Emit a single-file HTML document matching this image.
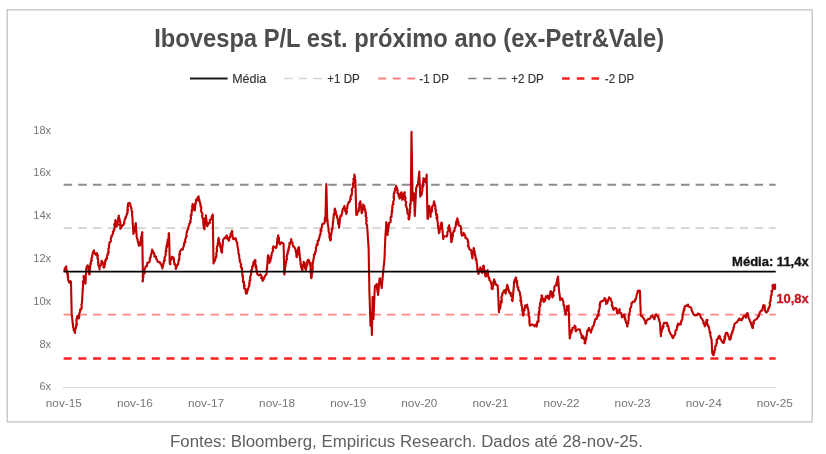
<!DOCTYPE html>
<html lang="pt-BR">
<head>
<meta charset="utf-8">
<title>Ibovespa P/L est. próximo ano (ex-Petr&amp;Vale)</title>
<style>
html,body{margin:0;padding:0;background:#fff;}
body{width:826px;height:454px;overflow:hidden;font-family:"Liberation Sans",sans-serif;}
svg{display:block;}
text{font-family:"Liberation Sans",sans-serif;}
.title{font-size:25.5px;font-weight:bold;fill:#4d4d4d;}
.lg{font-size:12px;fill:#333333;stroke:#333333;stroke-width:0.15px;}
.ax{font-size:11px;fill:#757575;}
.xl{font-size:11.8px;fill:#757575;}
.cap{font-size:16px;fill:#5f5f5f;}
.med{font-size:12.6px;font-weight:bold;fill:#141414;stroke:#141414;stroke-width:0.35px;}
.last{font-size:12.6px;font-weight:bold;fill:#c4161c;stroke:#c4161c;stroke-width:0.3px;}
</style>
</head>
<body>
<svg width="826" height="454" viewBox="0 0 826 454">
<rect x="0" y="0" width="826" height="454" fill="#ffffff"/>
<!-- chart frame -->
<rect x="7.2" y="9.8" width="805" height="412.1" fill="#ffffff" stroke="#c6c6c6" stroke-width="1.4"/>
<!-- title -->
<text x="154.2" y="46.9" class="title" textLength="510" lengthAdjust="spacingAndGlyphs">Ibovespa P/L est. próximo ano (ex-Petr&amp;Vale)</text>
<!-- legend -->
<line x1="190" y1="78.5" x2="227.6" y2="78.5" stroke="#1a1a1a" stroke-width="2"/>
<text x="232.2" y="82.6" class="lg" textLength="34" lengthAdjust="spacingAndGlyphs">Média</text>
<line x1="284.2" y1="78.5" x2="321.8" y2="78.5" stroke="#d4d4d4" stroke-width="1.6" stroke-dasharray="8.5 6.1"/>
<text x="327.3" y="82.6" class="lg" textLength="32.5" lengthAdjust="spacingAndGlyphs">+1 DP</text>
<line x1="378.2" y1="78.5" x2="415.6" y2="78.5" stroke="#ff8080" stroke-width="1.8" stroke-dasharray="8 6.5"/>
<text x="419.3" y="82.6" class="lg" textLength="29.6" lengthAdjust="spacingAndGlyphs">-1 DP</text>
<line x1="468.2" y1="78.5" x2="506.4" y2="78.5" stroke="#7f7f7f" stroke-width="1.5" stroke-dasharray="8.3 6.6"/>
<text x="511.2" y="82.6" class="lg" textLength="32.6" lengthAdjust="spacingAndGlyphs">+2 DP</text>
<line x1="562.1" y1="78.5" x2="599.4" y2="78.5" stroke="#ff1f1f" stroke-width="2.4" stroke-dasharray="7.6 7.1"/>
<text x="604.8" y="82.6" class="lg" textLength="29.4" lengthAdjust="spacingAndGlyphs">-2 DP</text>
<!-- axis -->
<line x1="62.9" y1="387.5" x2="776" y2="387.5" stroke="#d9d9d9" stroke-width="1"/>
<text x="33.2" y="133.6" class="ax" textLength="18.0" lengthAdjust="spacingAndGlyphs">18x</text>
<text x="33.2" y="176.4" class="ax" textLength="18.0" lengthAdjust="spacingAndGlyphs">16x</text>
<text x="33.2" y="219.2" class="ax" textLength="18.0" lengthAdjust="spacingAndGlyphs">14x</text>
<text x="33.2" y="262" class="ax" textLength="18.0" lengthAdjust="spacingAndGlyphs">12x</text>
<text x="33.2" y="304.8" class="ax" textLength="18.0" lengthAdjust="spacingAndGlyphs">10x</text>
<text x="39.4" y="347.6" class="ax" textLength="11.8" lengthAdjust="spacingAndGlyphs">8x</text>
<text x="39.4" y="390.4" class="ax" textLength="11.8" lengthAdjust="spacingAndGlyphs">6x</text>
<text x="63.8" y="407.4" text-anchor="middle" class="xl" textLength="36" lengthAdjust="spacingAndGlyphs">nov-15</text>
<text x="134.9" y="407.4" text-anchor="middle" class="xl" textLength="36" lengthAdjust="spacingAndGlyphs">nov-16</text>
<text x="206.0" y="407.4" text-anchor="middle" class="xl" textLength="36" lengthAdjust="spacingAndGlyphs">nov-17</text>
<text x="277.1" y="407.4" text-anchor="middle" class="xl" textLength="36" lengthAdjust="spacingAndGlyphs">nov-18</text>
<text x="348.2" y="407.4" text-anchor="middle" class="xl" textLength="36" lengthAdjust="spacingAndGlyphs">nov-19</text>
<text x="419.3" y="407.4" text-anchor="middle" class="xl" textLength="36" lengthAdjust="spacingAndGlyphs">nov-20</text>
<text x="490.4" y="407.4" text-anchor="middle" class="xl" textLength="36" lengthAdjust="spacingAndGlyphs">nov-21</text>
<text x="561.5" y="407.4" text-anchor="middle" class="xl" textLength="36" lengthAdjust="spacingAndGlyphs">nov-22</text>
<text x="632.6" y="407.4" text-anchor="middle" class="xl" textLength="36" lengthAdjust="spacingAndGlyphs">nov-23</text>
<text x="703.7" y="407.4" text-anchor="middle" class="xl" textLength="36" lengthAdjust="spacingAndGlyphs">nov-24</text>
<text x="774.8" y="407.4" text-anchor="middle" class="xl" textLength="36" lengthAdjust="spacingAndGlyphs">nov-25</text>
<!-- bands -->
<line x1="63.6" y1="184.7" x2="775.7" y2="184.7" stroke="#8c8c8c" stroke-width="2" stroke-dasharray="8.5 6.2"/>
<line x1="63.6" y1="228.1" x2="775.7" y2="228.1" stroke="#d2d2d2" stroke-width="1.8" stroke-dasharray="8.5 6.2"/>
<line x1="63.6" y1="314.7" x2="775.7" y2="314.7" stroke="#ff8585" stroke-width="1.8" stroke-dasharray="8.5 6.2"/>
<line x1="63.6" y1="358.4" x2="775.7" y2="358.4" stroke="#ff2020" stroke-width="2.5" stroke-dasharray="8 6.7"/>
<!-- series -->
<polyline fill="none" stroke="#c00000" stroke-width="2.1" stroke-linejoin="round" stroke-linecap="round" points="64.4,270.9 64.7,268.76 65.5,267.41 65.86,267.14 66.3,266.4 66.01,267.52 66.15,268.41 66.34,268.51 66.85,271.75 66.7,271.1 67.36,274.3 67.47,273.8 68.02,273.89 67.7,276.3 68.31,276.76 67.84,277.32 68.26,280.42 68.38,280.8 69.09,281.26 69.2,282.7 70.15,280.98 71.0,281.8 71.02,281.97 71.04,283.63 71.07,285.11 71.09,285.31 71.11,287.49 71.13,288.15 71.15,290.04 71.17,289.36 71.2,289.89 71.22,292.76 71.24,293.01 71.26,294.55 71.28,295.3 71.31,295.57 71.33,297.4 71.35,298.02 71.37,300.46 71.39,300.67 71.42,301.8 71.44,303.67 71.46,302.63 71.48,304.77 71.5,305.19 71.53,305.21 71.55,308.12 71.57,307.64 71.59,310.47 71.61,310.27 71.63,312.55 71.66,313.51 71.68,313.23 71.7,314.5 71.83,316.67 71.95,315.6 72.08,316.9 72.2,318.69 72.33,319.1 72.45,320.61 72.58,322.1 72.7,323.52 72.83,324.37 72.95,323.79 73.08,326.95 73.2,327.2 73.87,329.03 73.69,328.84 73.7,330.49 73.96,329.81 74.41,331.05 75.0,333.0 75.04,330.62 74.9,329.82 75.2,329.35 75.33,329.74 76.11,326.55 75.95,326.04 76.4,325.4 76.35,323.3 76.93,324.81 76.63,322.32 76.34,320.2 76.69,319.66 77.26,318.35 76.55,319.63 77.14,316.29 77.2,316.3 77.94,315.83 78.6,318.1 78.81,318.41 79.32,316.51 78.9,314.47 78.99,314.57 79.5,312.7 79.97,312.28 80.2,309.43 80.8,309.0 81.33,309.33 81.59,307.73 81.78,306.46 81.41,304.73 81.9,303.6 81.96,301.23 82.02,300.96 82.08,301.16 82.14,299.45 82.2,300.02 82.26,297.21 82.32,295.81 82.38,294.74 82.44,295.76 82.5,293.54 82.56,293.47 82.62,292.07 82.68,291.42 82.74,289.54 82.8,289.44 82.86,288.47 82.92,286.3 82.98,286.9 83.04,283.64 83.1,283.6 82.87,281.55 83.79,282.4 83.17,281.42 84.15,279.88 83.66,278.53 83.59,275.93 84.1,276.3 84.77,277.78 84.53,279.64 84.63,280.51 85.23,279.63 84.85,280.91 85.04,282.81 85.5,283.6 85.55,282.33 85.6,282.72 85.65,280.37 85.7,280.63 85.75,279.63 85.8,277.48 85.85,274.95 85.9,274.4 85.95,275.15 86.0,273.17 86.05,272.37 86.1,271.22 86.15,270.96 86.2,269.1 86.31,268.04 86.95,265.99 87.7,265.4 88.17,266.43 88.16,268.18 88.71,268.27 88.61,269.46 88.71,271.01 88.85,271.56 89.08,273.76 89.5,274.58 89.5,274.5 89.59,272.71 89.68,273.61 89.77,270.18 89.86,269.97 89.95,268.3 90.04,268.45 90.13,268.02 90.22,266.41 90.31,263.65 90.4,263.6 91.04,263.97 90.63,262.94 91.07,260.61 91.92,260.62 91.35,258.47 91.96,257.22 92.2,256.7 92.2,255.12 93.02,253.21 93.15,253.38 92.92,252.01 93.82,251.49 94.0,250.4 94.04,252.93 95.24,254.02 95.03,253.1 95.9,254.9 96.04,254.81 97.1,253.1 97.02,253.05 97.32,256.34 97.87,255.47 97.35,258.42 97.92,258.81 97.59,257.97 98.34,260.06 97.87,262.57 98.58,263.2 98.18,264.38 98.32,265.43 98.85,264.93 99.1,267.66 98.97,266.37 99.38,267.72 99.5,269.5 99.45,267.49 99.73,266.59 100.32,265.86 101.11,264.79 101.19,263.44 101.37,261.95 101.61,260.92 102.2,261.3 102.68,262.5 102.39,263.33 103.38,263.31 103.52,265.3 103.45,267.52 103.7,267.6 103.9,266.64 104.5,267.05 104.47,265.63 105.14,264.09 105.14,262.27 105.1,260.66 105.42,261.46 105.92,258.81 106.05,259.8 107.15,258.33 106.87,256.11 107.19,255.76 107.7,254.9 107.56,253.74 107.86,254.23 108.77,252.02 108.24,252.23 108.51,249.46 108.4,248.52 109.07,247.87 109.0,246.87 109.0,245.17 109.29,244.55 109.44,242.45 109.9,242.06 110.39,241.91 110.75,241.28 110.92,240.92 110.79,238.31 111.58,236.79 111.3,236.8 111.91,236.17 111.62,235.69 112.85,234.04 113.08,233.53 112.87,231.65 113.62,231.51 114.0,229.5 114.45,229.44 114.37,228.62 114.62,227.03 114.31,224.1 114.36,224.04 114.47,224.41 115.07,222.79 115.28,221.94 115.3,220.4 115.52,220.03 116.06,223.25 116.0,223.7 116.39,223.41 116.7,225.01 116.7,226.8 116.47,225.13 117.33,223.96 117.54,225.21 117.49,222.5 117.68,222.38 118.17,221.19 118.24,218.64 117.95,218.16 118.74,217.31 118.77,215.48 118.9,215.9 118.61,216.29 119.37,218.57 119.53,218.47 119.52,220.03 119.62,220.09 120.19,221.38 120.43,224.57 119.62,224.25 120.57,226.78 120.35,225.81 120.26,228.83 120.7,228.6 120.99,227.94 121.5,226.87 122.89,224.83 123.34,225.03 123.6,224.1 124.33,223.68 124.02,223.23 124.62,219.69 124.48,220.03 125.27,218.47 125.31,217.58 125.83,218.01 125.86,216.74 126.7,215.0 127.2,212.83 127.45,213.47 127.59,211.17 127.23,210.4 128.02,209.89 127.54,208.35 127.62,206.18 127.61,207.39 127.96,206.61 128.09,203.59 128.5,203.2 129.46,202.75 130.4,204.1 130.44,206.41 131.11,206.99 131.02,208.27 131.5,208.21 131.44,207.75 131.61,209.9 131.8,211.46 131.5,210.72 132.3,211.94 132.01,213.56 132.2,215.0 132.26,216.69 132.33,216.3 132.39,217.42 132.45,218.69 132.52,219.02 132.58,222.18 132.64,221.19 132.71,224.44 132.77,222.95 132.83,223.81 132.89,224.81 132.96,226.3 133.02,229.12 133.08,228.75 133.15,230.07 133.21,230.53 133.27,231.35 133.34,231.92 133.4,234.0 133.62,233.39 134.2,231.19 133.83,230.3 134.17,229.88 134.94,230.06 135.08,226.67 134.46,227.67 135.54,226.0 135.45,223.63 135.47,225.33 135.8,223.1 135.87,225.18 135.94,224.48 136.01,225.26 136.08,227.84 136.15,229.01 136.22,230.19 136.28,230.63 136.35,232.35 136.42,233.8 136.49,233.07 136.56,233.97 136.63,236.32 136.7,236.8 136.56,236.55 137.21,239.04 137.32,239.0 137.78,239.38 137.72,241.69 138.63,243.22 138.79,243.73 138.39,244.07 138.9,245.8 140.06,245.49 140.3,244.0 140.28,241.54 140.64,242.36 140.74,240.08 141.16,240.94 140.89,237.29 141.17,237.33 141.69,235.62 141.98,236.11 141.86,233.49 142.5,232.73 142.2,232.2 142.22,232.44 142.23,234.99 142.25,236.56 142.27,235.36 142.28,237.04 142.3,239.6 142.32,239.01 142.33,241.71 142.35,240.05 142.37,242.06 142.38,244.5 142.4,245.84 142.42,244.92 142.43,247.7 142.45,246.09 142.47,248.11 142.48,249.0 142.5,249.06 142.52,251.09 142.53,251.44 142.55,252.7 142.57,255.5 142.58,255.39 142.6,256.52 142.62,258.83 142.63,258.24 142.65,258.29 142.67,261.57 142.68,260.35 142.7,261.43 142.72,263.01 142.73,265.89 142.75,265.09 142.77,267.11 142.78,268.41 142.8,268.15 142.82,270.56 142.83,271.22 142.85,270.47 142.87,272.79 142.88,275.2 142.9,274.9 142.72,275.26 142.7,277.05 143.13,277.23 142.94,279.92 142.89,281.11 142.5,281.4 142.82,279.79 142.75,278.77 143.43,276.84 143.05,277.68 143.32,274.57 143.32,274.87 144.0,273.6 144.01,273.97 144.74,272.97 144.3,269.33 144.32,269.52 144.9,268.5 145.56,267.45 145.53,266.46 146.37,266.3 146.95,265.91 147.31,262.9 147.6,263.1 148.84,262.05 149.4,262.2 149.69,260.77 150.09,259.21 149.82,258.29 149.95,259.08 150.6,256.4 150.65,257.28 150.98,254.01 151.51,254.18 151.92,251.52 151.62,252.54 152.22,251.76 152.1,249.5 152.04,249.93 152.52,250.66 153.77,252.83 154.13,253.24 154.47,254.5 154.26,256.48 154.9,256.7 155.95,256.47 156.2,258.88 156.42,259.07 156.94,259.51 157.65,261.57 158.5,262.2 159.55,261.79 160.3,263.1 160.25,263.68 161.36,264.35 161.43,265.48 162.36,267.56 162.5,268.5 162.28,266.32 162.84,266.59 163.3,264.23 163.04,264.96 163.51,262.74 163.63,263.65 163.85,261.51 164.12,260.04 164.84,260.7 164.56,257.36 165.15,256.35 164.65,257.34 165.28,256.08 165.49,255.24 165.8,253.1 165.92,251.12 165.63,251.25 166.42,251.29 166.03,249.45 166.47,248.11 166.41,246.47 166.94,247.33 166.69,245.07 167.54,245.45 167.1,242.02 168.0,243.48 167.7,239.8 168.31,239.77 168.44,239.45 168.52,237.11 168.65,236.29 168.42,237.1 169.01,234.18 168.56,233.81 169.0,233.1 169.03,233.79 169.05,234.43 169.08,237.34 169.11,237.4 169.13,236.91 169.16,238.17 169.19,240.46 169.21,240.78 169.24,242.61 169.27,243.86 169.29,244.25 169.32,245.8 169.35,245.72 169.37,248.33 169.4,247.62 169.43,248.44 169.45,250.41 169.48,251.47 169.51,251.34 169.53,252.49 169.56,255.54 169.59,254.47 169.61,256.44 169.64,256.76 169.67,260.29 169.69,260.79 169.72,262.31 169.75,263.26 169.77,262.0 169.8,264.0 170.42,264.21 170.02,261.48 171.04,259.88 171.51,259.18 171.76,257.75 171.77,258.96 172.1,256.7 172.71,256.96 173.9,258.6 174.1,259.07 173.82,259.66 174.13,262.84 174.84,263.71 174.52,264.38 174.66,264.63 175.37,265.12 175.79,266.68 175.69,268.62 175.8,268.5 175.85,268.88 176.83,266.09 177.45,264.67 178.09,264.52 177.91,264.02 178.5,262.2 178.61,260.27 179.07,258.91 179.31,258.51 179.29,259.64 179.4,257.72 179.29,254.81 179.18,254.25 179.93,254.08 179.99,254.43 179.77,251.5 180.3,251.3 181.35,249.31 181.6,249.68 183.0,249.5 182.85,248.09 183.22,247.76 183.83,245.67 184.11,245.46 183.86,245.81 184.22,242.54 184.31,242.96 185.33,242.39 185.11,239.9 184.97,240.01 185.7,238.6 186.0,237.18 186.31,236.47 186.84,236.33 186.38,235.84 186.41,233.77 187.01,231.94 186.89,232.53 187.08,230.88 188.24,228.71 187.73,229.08 188.27,228.19 188.5,226.8 189.26,224.71 189.21,223.92 189.4,224.48 190.3,222.2 190.71,221.82 190.06,221.19 190.93,219.08 191.05,218.04 190.66,216.03 190.8,214.83 191.03,215.89 191.52,215.16 191.66,212.47 191.63,211.96 191.99,211.21 191.6,210.55 192.43,208.31 192.47,206.72 191.98,206.35 192.59,207.4 192.72,204.6 192.6,204.1 193.3,204.65 192.97,207.38 193.68,207.81 194.03,209.69 194.15,210.34 194.5,210.4 194.91,210.41 194.86,209.0 195.2,206.76 195.05,206.65 195.12,206.45 195.4,202.86 195.57,204.45 196.02,201.14 195.91,199.83 196.78,200.52 196.8,199.1 197.6,198.89 197.57,197.56 198.6,196.4 198.69,198.33 199.37,199.56 198.84,200.5 199.91,201.74 199.33,200.61 199.56,201.12 200.52,204.39 200.4,204.5 200.71,206.47 200.88,205.93 200.52,206.41 201.36,207.74 201.09,209.4 200.97,209.94 201.41,212.3 201.67,212.18 202.44,213.74 202.5,215.09 201.86,215.52 202.44,217.59 202.52,218.42 202.89,218.03 203.39,218.69 203.2,220.9 203.67,220.96 203.0,222.06 203.91,225.32 203.3,224.92 203.94,226.82 203.78,226.96 204.1,228.95 204.4,229.0 204.52,229.24 204.63,226.08 204.75,225.86 204.86,225.21 204.98,224.6 205.09,223.56 205.21,221.26 205.32,220.33 205.44,218.38 205.55,217.16 205.67,216.81 205.78,216.45 205.9,215.4 206.04,217.6 206.18,217.47 206.32,219.41 206.46,220.18 206.6,220.35 206.74,222.94 206.88,223.73 207.02,223.94 207.16,225.44 207.3,226.3 207.4,225.29 208.64,223.74 208.42,223.02 209.2,222.7 209.93,222.8 209.9,219.9 210.52,219.5 211.3,219.1 211.7,216.97 211.88,215.9 212.9,216.31 212.8,214.5 212.81,216.84 212.83,216.16 212.84,218.36 212.86,218.31 212.87,219.9 212.89,219.65 212.9,220.15 212.91,223.34 212.93,223.5 212.94,224.39 212.96,225.8 212.97,227.2 212.99,227.3 213.0,229.22 213.01,228.71 213.03,231.6 213.04,232.08 213.06,233.02 213.07,233.37 213.09,234.87 213.1,235.27 213.11,237.12 213.13,236.78 213.14,238.37 213.16,239.24 213.17,241.75 213.19,241.95 213.2,242.18 213.21,244.88 213.23,244.63 213.24,246.32 213.26,246.56 213.27,247.72 213.29,249.13 213.3,249.9 213.31,250.56 213.33,252.8 213.34,253.03 213.36,254.26 213.37,255.9 213.39,254.21 213.4,256.21 213.41,257.26 213.43,259.07 213.44,258.82 213.46,261.2 213.47,261.58 213.49,263.37 213.5,263.5 213.79,261.61 213.93,262.2 215.01,260.74 215.07,259.48 215.23,259.6 215.9,257.2 215.9,256.6 216.5,256.11 216.29,253.59 216.52,252.09 216.94,251.75 217.1,250.49 216.77,249.45 216.96,248.25 216.68,248.8 217.1,246.41 217.26,246.08 217.53,245.54 217.91,243.73 218.32,244.15 217.59,243.07 218.58,241.94 217.96,241.07 218.59,237.7 218.6,238.1 218.34,240.44 219.21,239.43 218.88,240.14 219.23,243.0 219.57,242.22 220.35,245.1 219.84,246.41 220.4,246.3 220.76,248.17 221.07,249.54 221.44,250.43 221.1,251.06 221.68,252.25 221.9,252.6 222.0,252.65 222.1,249.8 222.2,248.38 222.3,247.09 222.4,246.28 222.5,246.24 222.6,246.24 222.7,245.12 222.8,243.26 222.9,243.0 223.0,240.72 223.1,239.9 224.51,237.77 225.0,238.1 225.74,237.59 225.73,236.62 226.8,235.4 227.34,237.73 227.35,238.96 227.89,238.6 228.64,238.37 228.6,240.8 229.18,240.08 229.16,239.69 229.55,237.49 230.07,237.26 230.4,235.4 230.49,234.09 231.07,233.31 231.85,231.42 231.9,230.9 232.38,231.63 232.2,232.26 232.36,235.31 232.65,235.8 232.48,235.43 232.6,237.23 233.08,238.81 233.1,239.0 233.74,239.2 235.3,238.1 236.14,239.38 235.75,239.82 236.16,240.65 237.1,242.7 237.24,244.01 237.37,245.52 237.51,246.0 237.65,247.03 237.78,247.93 237.92,247.81 238.05,249.51 238.19,249.47 238.33,250.28 238.46,253.81 238.6,253.6 238.96,254.22 239.32,256.43 239.26,255.9 239.2,257.37 239.42,258.4 239.94,260.86 239.55,260.8 239.74,260.49 240.4,262.6 240.94,263.9 241.29,264.61 240.61,265.52 241.43,268.2 242.05,267.95 241.8,269.1 241.93,269.03 242.06,270.43 242.19,270.94 242.32,273.95 242.45,275.85 242.58,276.65 242.71,275.26 242.84,276.99 242.97,277.91 243.1,279.9 242.85,281.71 243.71,282.95 243.93,281.73 244.03,284.55 244.06,286.21 244.05,287.31 244.72,285.56 244.21,288.43 244.9,289.0 245.69,288.93 245.66,291.97 245.99,293.5 246.8,293.6 247.09,291.26 247.27,291.68 247.64,290.91 247.64,290.2 248.16,288.69 248.6,287.2 248.89,285.97 248.81,286.05 249.54,285.05 249.32,282.63 248.98,283.62 249.79,282.2 249.58,280.57 250.39,280.23 250.17,277.73 250.16,278.42 250.4,276.3 250.46,275.84 250.86,275.45 251.25,272.67 250.62,271.61 251.22,271.55 251.8,271.42 251.2,270.27 252.15,269.36 252.09,266.64 252.2,266.3 253.0,266.14 253.28,265.4 253.4,261.95 254.05,262.96 254.15,261.78 254.9,260.0 255.5,260.3 255.33,262.66 255.36,262.37 255.31,265.02 256.01,265.25 255.47,267.33 256.32,266.73 256.29,269.73 256.76,269.72 256.51,270.99 256.7,271.8 256.86,271.81 257.33,274.18 257.99,274.69 258.6,275.4 259.4,275.0 260.4,274.5 260.42,274.25 261.63,276.27 261.11,278.08 262.15,277.77 262.33,279.38 262.6,280.9 263.08,278.59 263.05,280.48 264.35,278.1 264.51,276.53 264.9,276.3 265.63,274.96 266.25,274.83 266.57,274.27 266.7,271.8 266.78,269.43 266.86,268.82 266.94,267.42 267.02,268.77 267.11,267.97 267.19,264.39 267.27,264.33 267.35,264.93 267.43,262.76 267.51,262.87 267.59,260.22 267.68,258.51 267.76,259.9 267.84,256.11 267.92,256.0 268.0,255.4 268.62,257.6 268.77,256.14 268.93,259.09 269.0,260.92 268.63,259.51 269.54,262.85 269.5,262.6 270.13,260.89 270.49,261.1 270.46,258.71 271.3,258.1 271.25,255.94 271.66,254.99 271.61,253.85 272.24,252.4 272.47,251.85 271.98,252.9 272.36,251.85 273.19,250.65 272.66,248.29 272.81,248.62 273.4,246.3 274.54,247.27 274.95,247.04 275.8,248.1 276.56,246.83 276.79,244.66 277.1,244.5 276.94,242.2 277.56,242.63 277.11,242.54 277.36,240.2 277.37,238.78 278.17,237.95 277.62,237.4 277.9,237.58 278.2,235.4 278.01,237.8 278.16,238.57 278.97,237.6 278.98,238.82 278.96,239.59 279.26,242.89 280.1,243.71 279.4,242.88 280.0,244.5 281.3,242.32 281.8,242.7 282.93,243.0 283.6,244.5 283.62,244.1 283.65,246.04 283.67,246.06 283.69,248.58 283.72,249.31 283.74,249.68 283.76,250.45 283.79,253.28 283.81,252.62 283.83,253.3 283.86,255.49 283.88,255.65 283.9,258.1 283.93,258.74 283.95,258.24 283.97,260.23 284.0,260.21 284.02,262.02 284.04,264.56 284.07,263.09 284.09,265.43 284.11,265.82 284.14,268.46 284.16,267.52 284.18,269.78 284.21,270.56 284.23,271.55 284.25,273.12 284.28,274.56 284.3,274.5 284.44,274.12 284.57,273.25 284.71,272.61 284.85,270.52 284.98,269.63 285.12,267.16 285.25,266.76 285.39,265.42 285.53,266.5 285.66,263.42 285.8,263.6 286.18,261.72 285.68,261.89 286.42,260.67 286.72,258.45 287.07,259.23 286.43,256.51 287.05,256.6 287.02,254.5 287.33,253.55 287.6,253.6 287.89,253.64 287.65,251.79 288.45,249.59 288.73,250.82 288.49,248.31 289.14,247.61 288.9,247.8 289.48,245.04 289.4,244.5 289.5,242.92 290.06,243.7 290.78,242.4 291.16,241.11 291.2,239.0 291.02,240.09 292.2,242.35 291.76,241.9 292.42,242.78 292.59,242.97 292.76,245.27 293.1,246.3 293.52,246.15 294.9,248.1 295.57,249.91 295.74,250.51 295.81,252.25 296.08,250.79 296.04,252.48 296.28,253.51 296.34,256.41 296.62,255.47 296.7,257.2 296.94,256.01 297.59,254.58 297.17,254.63 297.2,253.47 298.26,252.24 297.79,251.1 298.27,249.18 298.08,248.13 298.47,247.93 298.9,247.2 299.01,247.5 299.12,249.43 299.22,250.66 299.33,251.82 299.44,253.04 299.55,253.62 299.65,254.43 299.76,254.82 299.87,256.65 299.98,257.91 300.08,258.28 300.19,259.0 300.3,260.8 300.56,261.8 300.48,264.26 300.7,264.66 300.76,263.63 301.67,265.74 301.06,266.61 301.64,268.64 301.51,268.18 302.1,270.0 302.75,269.67 302.13,267.48 302.51,267.43 302.97,266.91 303.36,264.93 303.46,264.56 303.67,262.75 303.6,261.8 304.16,263.43 304.56,262.77 304.8,263.44 304.97,266.15 304.97,268.27 305.32,267.71 305.81,270.06 305.8,270.0 306.12,268.65 306.17,267.88 306.65,266.4 306.53,266.16 306.73,264.48 307.35,265.01 307.27,262.84 307.16,261.43 307.33,261.22 307.9,260.0 308.46,259.7 309.28,261.29 309.68,263.68 310.28,262.74 310.3,264.5 310.37,266.74 310.44,265.28 310.51,267.63 310.58,269.48 310.65,271.18 310.72,270.83 310.78,271.5 310.85,273.14 310.92,275.21 310.99,275.03 311.06,275.64 311.13,277.23 311.2,278.1 311.39,278.18 311.89,276.02 311.48,275.41 312.15,273.57 311.79,273.92 311.55,271.46 312.47,271.91 312.11,268.82 312.61,269.48 312.65,269.33 312.83,266.66 312.21,265.27 312.67,264.87 312.46,262.92 313.02,263.12 313.0,261.8 313.08,262.08 313.59,258.17 313.59,259.18 313.9,257.2 313.96,256.76 313.91,254.65 315.01,254.48 315.09,252.36 315.17,252.4 315.19,251.68 315.71,251.71 316.01,249.01 315.81,247.29 316.7,246.15 316.7,246.3 316.64,244.32 317.4,245.19 317.83,244.11 317.61,240.79 318.66,240.66 318.94,239.73 318.73,238.45 319.4,238.1 319.21,238.23 319.9,235.57 319.97,234.63 319.79,235.05 320.52,234.2 320.59,232.17 320.6,229.45 321.49,230.76 321.08,229.84 321.79,227.07 321.79,227.93 321.89,226.85 322.1,224.5 322.94,223.73 324.3,223.6 324.7,221.73 324.48,222.56 324.83,221.25 324.78,218.39 325.08,217.36 325.4,217.2 325.87,217.62 325.46,218.13 325.43,219.94 325.4,221.3 325.42,219.03 325.45,220.23 325.47,217.54 325.5,216.65 325.52,214.92 325.55,214.81 325.57,214.86 325.59,212.59 325.62,211.17 325.64,212.22 325.67,209.25 325.69,209.88 325.72,209.56 325.74,208.53 325.76,205.43 325.79,204.14 325.81,203.51 325.84,203.46 325.86,201.46 325.89,200.36 325.91,199.09 325.94,199.3 325.96,198.96 325.98,197.63 326.01,195.62 326.03,193.96 326.06,195.17 326.08,193.62 326.11,192.32 326.13,191.14 326.15,188.87 326.18,188.33 326.2,188.75 326.23,186.84 326.25,186.91 326.28,186.15 326.3,184.1 326.33,184.47 326.35,186.65 326.38,186.71 326.41,188.62 326.43,188.44 326.46,189.76 326.49,190.28 326.51,193.41 326.54,193.85 326.56,192.91 326.59,194.39 326.62,195.93 326.64,196.74 326.67,197.38 326.7,199.52 326.72,199.62 326.75,201.88 326.78,200.92 326.8,204.18 326.83,203.07 326.86,205.72 326.88,205.68 326.91,208.28 326.94,209.65 326.96,208.27 326.99,210.17 327.01,212.45 327.04,211.32 327.07,213.31 327.09,215.1 327.12,216.51 327.15,216.43 327.17,218.16 327.2,218.6 327.32,219.69 327.45,219.64 327.57,220.45 327.7,223.72 327.82,224.03 327.95,225.35 328.07,225.28 328.2,226.65 328.32,227.26 328.45,228.13 328.57,230.74 328.7,231.3 328.64,231.56 329.12,233.16 329.74,233.9 329.3,236.46 329.34,236.54 329.73,238.28 330.15,239.13 329.97,239.87 330.5,240.4 330.76,239.3 331.09,239.38 330.61,236.82 331.02,235.59 330.88,234.81 331.18,235.04 331.59,232.34 331.63,232.38 331.84,230.52 331.71,229.07 332.3,229.5 332.41,229.17 332.52,228.01 332.62,226.51 332.73,225.23 332.84,223.31 332.95,221.72 333.06,222.51 333.17,222.3 333.28,219.25 333.38,217.87 333.49,218.65 333.6,216.8 334.1,215.18 333.61,215.15 334.43,214.96 333.92,213.53 334.74,212.38 334.4,209.74 335.06,209.1 334.9,208.6 335.05,209.83 335.33,211.72 335.48,210.51 336.09,213.29 336.3,214.0 336.87,215.66 337.21,217.42 337.04,217.2 336.96,217.69 337.63,218.12 337.8,220.4 338.16,220.47 338.09,223.85 337.9,222.19 338.43,223.67 338.88,224.17 339.17,227.69 339.0,227.7 339.13,226.39 339.26,225.99 339.39,224.2 339.52,223.16 339.65,223.2 339.78,220.19 339.91,219.91 340.04,218.54 340.17,216.69 340.3,216.8 340.47,215.64 341.46,215.9 341.69,215.05 342.13,212.98 342.33,210.31 342.53,210.86 342.7,209.5 342.95,208.81 344.05,207.64 344.2,206.22 344.5,205.9 344.57,208.03 344.48,207.02 345.35,208.78 344.99,210.42 345.5,211.2 345.77,212.06 346.14,212.69 346.3,214.0 346.09,212.08 347.05,212.16 346.45,212.08 346.77,208.87 347.23,208.33 347.37,208.22 347.29,207.28 347.35,206.12 348.01,203.87 348.1,204.1 348.66,201.91 349.4,202.2 349.61,202.25 349.98,200.82 350.46,198.08 350.96,198.84 350.34,198.16 350.89,195.25 351.73,195.38 351.81,193.15 351.8,193.2 352.23,190.85 351.84,190.7 351.77,190.27 352.11,188.35 352.76,187.65 353.09,187.15 353.22,185.92 353.42,185.74 352.82,184.31 353.14,183.3 353.63,182.41 353.6,180.4 353.4,178.85 354.2,179.34 354.36,175.54 354.42,174.52 354.5,174.5 354.68,176.49 354.37,177.96 355.06,177.13 354.71,178.8 355.48,180.31 354.89,179.8 355.4,182.3 355.43,184.19 355.46,184.49 355.48,185.9 355.51,185.34 355.54,187.51 355.57,189.31 355.6,188.02 355.62,189.44 355.65,192.55 355.68,191.14 355.71,194.43 355.74,194.21 355.77,194.55 355.79,196.25 355.82,197.9 355.85,198.1 355.88,200.76 355.91,199.31 355.93,201.25 355.96,202.9 355.99,203.27 356.02,204.94 356.05,204.34 356.07,208.16 356.1,206.74 356.13,208.13 356.16,209.81 356.19,211.02 356.22,213.17 356.24,211.51 356.27,214.67 356.3,214.9 357.12,214.8 357.33,213.49 357.51,211.57 358.1,211.3 358.62,211.38 358.98,209.83 358.56,209.06 359.22,207.33 359.34,205.87 359.47,205.03 359.2,203.83 359.68,204.72 360.06,201.92 360.3,201.3 360.43,201.6 360.55,202.39 360.68,205.59 360.81,205.43 360.94,206.09 361.06,206.48 361.19,208.25 361.32,210.03 361.45,210.49 361.57,212.27 361.7,213.1 361.52,211.16 362.26,212.49 362.27,210.86 362.58,210.12 362.46,207.99 363.52,206.38 363.12,204.63 363.6,205.0 363.56,205.38 364.4,206.28 364.4,207.28 364.9,210.26 365.25,209.37 365.4,211.3 365.75,213.67 365.73,212.13 366.05,215.46 365.69,214.35 365.65,216.53 366.45,217.86 366.61,217.64 366.13,220.22 366.56,220.25 366.7,221.08 366.19,222.33 366.3,223.97 366.7,224.61 367.07,224.95 367.05,225.26 367.2,227.7 367.27,228.93 367.35,228.51 367.42,231.49 367.49,230.71 367.57,231.9 367.64,232.79 367.72,234.81 367.79,236.34 367.86,237.58 367.94,237.68 368.01,238.52 368.08,241.03 368.16,240.76 368.23,243.75 368.31,242.77 368.38,245.74 368.45,244.08 368.53,247.0 368.6,247.6 368.62,248.22 368.64,248.84 368.66,249.46 368.67,250.6 368.69,252.69 368.71,252.77 368.73,254.32 368.75,254.79 368.77,257.97 368.79,256.4 368.8,258.03 368.82,259.79 368.84,260.36 368.86,261.71 368.88,264.01 368.9,264.54 368.92,265.3 368.93,266.95 368.95,267.1 368.97,269.14 368.99,269.31 369.01,269.24 369.03,270.78 369.05,271.13 369.07,273.42 369.08,275.46 369.1,275.24 369.12,277.11 369.14,276.4 369.16,279.02 369.18,278.62 369.2,281.25 369.21,281.67 369.23,282.02 369.25,284.28 369.27,285.3 369.29,286.01 369.31,285.3 369.33,288.67 369.34,286.87 369.36,290.64 369.38,291.48 369.4,291.3 369.43,293.0 369.46,292.37 369.5,293.16 369.53,296.57 369.56,297.48 369.59,296.03 369.63,299.25 369.66,298.08 369.69,299.65 369.72,300.3 369.76,303.89 369.79,304.57 369.82,304.45 369.85,305.3 369.89,307.06 369.92,308.23 369.95,307.43 369.98,309.55 370.01,310.14 370.05,312.95 370.08,313.28 370.11,312.69 370.14,313.39 370.18,315.68 370.21,316.83 370.24,316.26 370.27,319.14 370.31,319.85 370.34,322.13 370.37,322.37 370.4,322.23 370.44,325.14 370.47,324.45 370.5,325.8 370.56,323.71 370.62,322.25 370.68,323.86 370.73,321.89 370.79,319.76 370.85,318.34 370.91,319.22 370.97,316.03 371.02,315.77 371.08,315.36 371.14,315.53 371.2,313.1 371.23,314.85 371.27,315.21 371.3,317.65 371.33,317.63 371.37,317.94 371.4,319.02 371.43,320.69 371.47,320.89 371.5,322.57 371.53,323.81 371.57,325.7 371.6,326.2 371.63,326.53 371.67,326.6 371.7,328.75 371.73,329.79 371.77,329.99 371.8,332.72 371.83,333.23 371.87,335.0 371.9,334.9 371.92,332.57 371.94,333.86 371.96,330.8 371.97,330.17 371.99,329.47 372.01,328.95 372.03,326.69 372.05,328.32 372.07,325.73 372.08,325.74 372.1,322.86 372.12,322.48 372.14,321.1 372.16,320.4 372.18,318.46 372.19,319.06 372.21,316.92 372.23,316.2 372.25,315.1 372.27,313.66 372.29,314.89 372.31,312.62 372.32,312.18 372.34,309.51 372.36,309.45 372.38,308.24 372.4,308.26 372.42,306.4 372.43,306.05 372.45,303.93 372.47,304.43 372.49,303.3 372.51,300.57 372.53,300.46 372.54,299.8 372.56,299.55 372.58,298.07 372.6,296.8 372.64,297.73 372.69,298.63 372.73,301.05 372.77,300.93 372.81,302.93 372.86,303.73 372.9,302.73 372.94,305.26 372.99,306.93 373.03,306.37 373.07,309.14 373.11,308.06 373.16,310.48 373.2,311.86 373.24,312.32 373.29,313.96 373.33,314.69 373.37,316.4 373.41,315.5 373.46,317.61 373.5,318.6 373.54,318.99 373.59,315.85 373.63,314.8 373.67,314.64 373.72,313.22 373.76,311.85 373.8,312.27 373.85,309.66 373.89,308.03 373.93,307.93 373.98,307.24 374.02,305.85 374.06,304.34 374.11,304.34 374.15,302.61 374.19,301.86 374.24,300.58 374.28,300.92 374.32,299.64 374.37,298.27 374.41,298.23 374.45,297.04 374.5,294.72 374.54,292.57 374.58,291.61 374.63,290.89 374.67,290.97 374.71,289.75 374.76,289.24 374.8,287.7 375.04,285.96 376.04,284.87 376.57,284.15 376.6,284.1 376.75,284.01 376.9,287.57 377.05,287.8 377.2,289.6 377.35,288.5 377.5,291.15 377.65,292.63 377.8,291.96 377.95,293.29 378.1,294.9 378.19,292.88 378.28,292.35 378.36,290.83 378.45,292.22 378.54,288.45 378.62,289.2 378.71,287.9 378.8,286.65 378.89,285.53 378.98,283.59 379.06,282.6 379.15,284.11 379.24,281.73 379.32,280.2 379.41,279.61 379.5,278.6 380.17,278.43 379.97,281.68 380.33,281.75 380.07,281.6 380.49,284.8 381.31,283.88 381.64,284.32 381.55,288.04 381.7,287.7 381.79,287.96 381.89,284.35 381.98,284.48 382.07,284.3 382.17,283.41 382.26,280.3 382.36,279.35 382.45,280.34 382.54,278.36 382.64,277.49 382.73,276.85 382.82,275.63 382.92,274.01 383.01,272.38 383.11,273.61 383.2,271.3 383.32,271.2 383.44,269.06 383.56,266.85 383.68,265.83 383.8,265.95 383.92,264.67 384.04,263.77 384.16,262.19 384.28,261.21 384.4,260.4 384.44,258.28 384.49,259.4 384.53,258.42 384.57,257.53 384.61,256.05 384.66,254.72 384.7,253.86 384.74,251.41 384.79,250.75 384.83,249.42 384.87,247.78 384.91,247.17 384.96,247.73 385.0,244.6 385.04,245.12 385.09,242.46 385.13,243.31 385.17,241.26 385.21,240.57 385.26,238.22 385.3,238.6 385.36,237.32 385.43,235.36 385.49,236.2 385.55,233.49 385.61,232.43 385.68,231.64 385.74,232.81 385.8,231.25 385.86,229.37 385.93,229.53 385.99,227.72 386.05,226.66 386.11,226.11 386.18,224.88 386.24,222.25 386.3,222.2 386.4,223.76 386.5,223.26 386.6,226.64 386.7,227.14 386.8,228.37 386.9,228.36 387.0,230.43 387.1,230.08 387.2,231.82 387.3,231.67 387.4,234.68 387.5,234.9 387.64,234.81 387.77,231.88 387.91,230.92 388.05,231.79 388.18,230.15 388.32,229.29 388.45,227.92 388.59,227.26 388.73,224.05 388.86,225.15 389.0,223.1 389.44,222.48 390.54,222.15 390.8,220.4 390.45,219.31 390.62,217.15 391.56,216.99 391.5,216.04 391.39,214.28 391.55,215.05 391.97,212.39 391.59,211.27 392.35,210.71 392.46,210.71 392.07,209.29 392.6,207.7 392.25,207.61 392.51,204.99 393.4,204.23 392.77,204.73 393.27,203.72 393.17,201.55 393.84,200.54 393.99,198.6 393.94,197.5 393.75,196.0 393.51,197.72 393.9,196.3 393.81,193.95 393.78,193.5 394.65,192.37 394.4,191.3 394.64,191.46 395.51,189.62 395.06,188.42 395.78,188.31 396.2,185.9 396.33,187.41 396.87,187.63 397.04,189.54 397.69,190.07 397.42,192.5 397.39,193.13 398.1,193.2 398.56,194.45 398.61,196.09 399.33,197.1 399.47,196.17 399.5,198.6 399.63,196.5 400.55,197.64 400.04,195.7 400.78,193.09 400.89,194.07 401.3,192.3 401.63,192.69 401.93,193.75 401.9,195.16 402.52,196.85 402.53,197.95 402.29,199.81 402.6,199.5 403.07,199.02 402.89,196.46 403.45,197.36 403.92,194.94 403.53,194.4 404.52,192.35 404.4,192.3 404.78,192.39 404.49,193.1 404.61,195.1 405.42,197.82 404.78,196.98 405.67,197.7 405.19,199.44 405.12,199.97 405.54,201.38 406.25,202.09 405.63,204.99 406.01,205.83 406.2,205.9 406.55,207.75 406.45,206.98 407.1,208.95 407.12,210.58 407.53,210.48 407.36,213.39 407.74,212.61 408.05,213.57 408.41,213.99 408.68,216.55 408.42,218.68 408.55,217.71 409.0,219.5 408.66,218.64 409.44,218.01 409.2,217.38 408.99,214.92 409.62,215.83 409.7,214.03 409.94,212.16 410.2,212.16 409.69,210.14 410.25,209.01 409.73,209.52 410.17,207.5 410.4,207.6 409.96,204.96 409.99,204.17 410.52,204.44 410.78,202.64 410.61,201.62 410.8,200.4 410.81,200.39 410.82,199.36 410.83,197.87 410.84,196.37 410.85,196.51 410.86,195.28 410.87,194.44 410.88,192.92 410.89,191.65 410.9,189.06 410.91,190.24 410.92,187.46 410.93,186.11 410.94,187.65 410.95,184.86 410.96,183.02 410.98,182.74 410.99,182.62 411.0,180.58 411.01,180.07 411.02,180.11 411.03,179.16 411.04,176.4 411.05,175.72 411.06,175.38 411.07,175.02 411.08,174.15 411.09,172.26 411.1,171.95 411.11,170.15 411.12,167.86 411.13,168.77 411.14,166.82 411.15,166.36 411.16,166.16 411.17,164.96 411.18,162.58 411.19,160.82 411.2,159.99 411.21,160.58 411.22,158.91 411.23,157.13 411.24,156.39 411.25,156.7 411.26,154.82 411.27,154.58 411.28,152.31 411.29,152.56 411.3,151.69 411.31,151.18 411.32,149.59 411.34,147.09 411.35,147.99 411.36,146.3 411.37,144.5 411.38,144.29 411.39,142.33 411.4,140.95 411.41,142.04 411.42,139.74 411.43,137.72 411.44,138.66 411.45,138.27 411.46,136.69 411.47,135.76 411.48,132.68 411.49,132.83 411.5,131.8 411.52,132.09 411.53,135.0 411.55,136.12 411.56,135.65 411.58,136.51 411.6,138.84 411.61,137.45 411.63,140.12 411.65,139.46 411.66,142.72 411.68,141.57 411.69,144.01 411.71,144.4 411.73,147.04 411.74,147.34 411.76,147.2 411.77,148.61 411.79,150.22 411.81,150.1 411.82,152.22 411.84,153.59 411.86,152.74 411.87,153.71 411.89,155.72 411.9,157.64 411.92,158.46 411.94,158.96 411.95,161.23 411.97,159.79 411.99,163.48 412.0,162.76 412.02,165.02 412.03,165.79 412.05,164.92 412.07,167.99 412.08,166.81 412.1,170.38 412.11,170.63 412.13,171.55 412.15,171.47 412.16,171.76 412.18,173.02 412.2,175.79 412.21,177.08 412.23,177.23 412.24,179.04 412.26,180.42 412.28,181.24 412.29,182.16 412.31,182.59 412.33,184.12 412.34,182.97 412.36,184.66 412.37,184.85 412.39,185.91 412.41,189.2 412.42,188.21 412.44,189.46 412.45,190.19 412.47,192.46 412.49,192.16 412.5,195.36 412.52,194.2 412.54,195.79 412.55,196.35 412.57,199.77 412.58,197.96 412.6,200.4 412.37,198.25 413.19,198.63 413.22,197.19 413.31,196.61 413.75,196.46 414.03,195.09 414.0,193.2 414.04,195.21 414.07,193.9 414.11,197.31 414.15,198.42 414.18,199.64 414.22,199.99 414.25,199.84 414.29,200.95 414.33,202.32 414.36,203.96 414.4,205.31 414.44,207.02 414.47,205.96 414.51,207.39 414.55,207.9 414.58,210.93 414.62,211.53 414.65,212.9 414.69,212.9 414.73,214.78 414.76,215.24 414.8,215.9 414.85,215.0 414.9,212.9 414.95,213.31 415.0,213.14 415.05,212.06 415.1,211.21 415.15,208.02 415.2,209.02 415.25,206.14 415.3,207.25 415.35,204.64 415.4,204.37 415.45,203.54 415.5,201.1 415.55,201.35 415.6,199.09 415.65,199.19 415.7,198.22 415.75,197.33 415.8,194.49 415.85,193.34 415.9,192.71 415.95,192.72 416.0,192.27 416.05,191.5 416.1,188.55 416.15,188.44 416.2,187.7 416.84,186.64 417.33,184.73 417.98,184.54 418.0,184.1 418.11,181.71 418.22,181.26 418.32,181.9 418.43,179.36 418.54,178.08 418.65,176.96 418.76,177.18 418.87,174.97 418.98,173.71 419.08,173.51 419.19,173.03 419.3,171.8 419.34,171.54 419.37,174.82 419.41,176.14 419.44,176.45 419.48,177.64 419.52,177.41 419.55,177.67 419.59,180.66 419.62,180.45 419.66,181.0 419.7,181.99 419.73,183.41 419.77,184.72 419.8,184.5 419.84,187.78 419.88,186.44 419.91,187.69 419.95,190.41 419.98,189.69 420.02,190.85 420.06,192.63 420.09,192.55 420.13,194.71 420.16,195.96 420.2,196.8 420.13,194.89 421.16,194.78 421.65,194.84 422.0,191.27 422.0,191.3 422.59,190.31 422.04,188.23 422.81,187.29 422.18,186.39 423.17,185.9 423.13,183.72 423.0,183.36 422.91,183.31 423.21,180.67 423.98,180.66 423.33,178.24 423.8,178.6 424.45,179.88 424.32,180.98 425.3,182.3 425.73,181.29 425.41,180.07 425.96,179.4 425.69,178.72 426.67,177.43 426.77,175.23 426.6,174.5 426.62,174.58 426.64,176.79 426.66,176.29 426.68,177.16 426.7,178.47 426.72,181.24 426.74,182.79 426.76,183.04 426.78,184.82 426.8,184.46 426.83,186.83 426.85,187.95 426.87,186.71 426.89,187.67 426.91,189.41 426.93,191.87 426.95,191.27 426.97,193.03 426.99,193.18 427.01,195.5 427.03,195.86 427.05,196.42 427.07,198.17 427.09,197.8 427.11,200.89 427.13,199.51 427.15,201.8 427.17,201.28 427.19,202.6 427.21,204.43 427.23,206.7 427.25,207.62 427.27,206.9 427.3,208.31 427.32,210.78 427.34,209.18 427.36,210.97 427.38,213.66 427.4,213.67 427.42,215.48 427.44,215.63 427.46,215.85 427.48,217.85 427.5,218.6 427.95,218.7 428.26,215.59 427.53,216.58 428.17,213.44 428.44,212.6 428.14,211.86 428.57,211.71 428.27,210.83 428.97,208.99 429.17,208.89 428.66,206.89 429.3,205.9 429.44,207.6 429.58,207.15 429.72,210.0 429.86,210.06 430.0,210.5 430.14,213.78 430.28,212.75 430.42,214.21 430.56,216.48 430.7,216.8 430.5,215.0 430.76,214.14 430.75,212.77 431.3,212.61 431.14,212.08 432.18,211.08 431.76,210.46 432.02,207.93 432.24,206.48 432.6,205.91 432.6,205.9 432.82,206.09 433.57,204.57 433.79,202.84 434.0,201.3 434.43,203.68 434.15,204.12 434.48,203.67 435.22,205.69 435.47,207.51 435.44,206.58 435.09,208.58 435.8,209.5 436.18,209.9 435.67,210.18 435.92,213.24 435.9,212.95 436.32,215.4 437.19,214.46 436.46,218.17 437.47,216.95 436.99,219.09 437.12,219.84 437.43,220.44 437.6,222.2 437.73,222.08 437.86,223.2 437.99,226.04 438.12,227.41 438.25,227.19 438.38,227.84 438.51,230.01 438.64,229.92 438.77,231.68 438.9,233.1 439.41,231.28 439.78,231.9 439.36,230.23 439.75,229.54 440.65,228.74 440.37,225.68 441.09,226.01 440.86,223.89 441.59,222.6 441.8,222.7 441.89,222.97 441.99,224.52 442.08,226.41 442.18,227.43 442.27,227.19 442.36,229.37 442.46,231.0 442.55,230.3 442.64,231.18 442.74,232.09 442.83,234.85 442.93,236.26 443.02,235.39 443.11,237.6 443.21,238.3 443.3,239.0 443.59,236.79 444.71,236.19 445.4,236.3 446.78,236.49 447.3,234.5 447.46,232.61 447.32,232.5 447.92,231.07 448.32,230.54 448.58,228.3 448.07,228.11 448.68,226.7 449.07,225.6 449.1,225.4 449.12,226.38 449.71,228.27 449.57,228.37 450.33,230.83 450.22,229.47 450.26,232.05 450.5,232.7 450.42,232.37 451.27,235.91 450.56,235.63 451.2,236.16 450.79,238.48 451.64,238.58 451.1,239.47 451.25,242.13 451.8,241.8 451.51,240.19 452.4,238.76 451.9,237.58 452.12,237.93 452.95,235.89 452.46,236.62 452.87,234.39 452.73,233.13 453.74,231.77 453.2,232.59 453.6,230.9 454.44,231.15 454.47,230.37 455.05,227.51 455.4,227.2 455.58,226.83 456.06,224.13 455.73,225.53 455.85,224.11 456.29,221.47 456.42,221.11 457.37,219.18 457.44,218.68 457.3,218.2 457.23,219.94 457.66,219.35 457.99,222.22 458.69,222.53 458.1,224.11 458.95,225.53 459.1,225.4 460.45,225.8 460.9,227.2 461.36,229.15 460.89,228.86 461.11,229.85 461.23,230.17 461.19,233.51 461.49,233.74 462.07,235.12 461.8,235.4 462.14,235.72 463.3,235.02 463.6,232.7 464.19,234.52 464.63,234.14 464.84,235.59 465.38,235.96 465.4,238.1 466.34,238.08 467.2,239.0 467.71,239.58 467.92,242.06 468.14,241.03 468.39,243.81 468.31,244.57 467.87,246.22 468.56,246.05 468.7,247.2 469.27,248.92 470.45,250.07 470.9,249.9 470.79,250.46 471.0,250.79 471.25,251.6 471.9,253.21 471.35,253.77 472.19,255.18 472.09,256.79 472.3,258.1 472.43,258.42 472.56,256.48 472.69,255.01 472.82,254.78 472.95,254.18 473.08,250.96 473.21,252.05 473.34,250.05 473.47,250.2 473.6,248.1 473.99,248.28 473.91,249.75 474.73,251.74 474.12,253.4 474.26,253.49 474.88,254.88 475.1,254.09 475.4,256.3 475.62,258.24 476.09,257.91 475.72,260.04 476.5,259.53 476.78,262.78 476.53,262.02 477.01,264.62 476.7,263.81 477.2,265.4 477.14,267.12 477.11,267.64 477.54,269.04 477.29,270.92 478.26,270.83 478.17,270.78 478.4,272.9 478.1,273.8 478.73,273.8 478.7,272.9 478.91,269.22 479.57,270.69 480.33,269.79 480.3,267.4 480.67,269.75 481.08,268.57 481.51,271.58 481.66,272.1 482.1,272.9 482.07,271.21 482.45,270.85 482.71,268.59 482.46,268.27 483.39,268.41 483.12,265.93 483.6,265.6 483.78,265.65 484.03,268.75 483.79,268.82 484.48,270.29 484.63,271.17 484.35,272.53 485.17,271.24 485.35,273.36 484.66,273.27 485.53,276.02 485.4,276.5 485.41,275.33 486.27,275.84 486.34,274.12 486.61,271.43 486.89,270.99 487.6,270.2 487.9,270.63 487.62,271.38 487.72,272.31 488.14,274.21 488.18,275.14 488.62,277.57 488.85,278.49 489.01,277.32 489.31,278.17 489.4,280.2 489.77,279.86 490.8,282.0 491.22,284.38 491.13,283.63 491.37,284.66 491.85,285.8 491.52,288.2 492.16,286.74 492.3,289.2 492.83,288.87 492.51,287.6 493.26,285.94 492.95,284.65 493.25,284.72 493.62,284.56 493.21,281.88 494.09,282.12 494.01,280.8 494.1,279.3 494.3,281.67 494.87,281.18 494.86,281.42 495.94,284.49 495.9,284.7 496.33,284.64 497.7,285.6 497.75,286.6 497.8,288.77 497.85,288.73 497.9,290.05 497.95,290.17 498.0,291.99 498.05,291.99 498.1,293.37 498.15,295.9 498.2,295.07 498.25,297.66 498.3,298.29 498.35,297.86 498.4,300.65 498.45,299.98 498.5,301.1 498.55,303.43 498.6,305.1 498.65,306.04 498.7,307.06 498.75,305.95 498.8,308.89 498.85,307.69 498.9,310.61 498.95,312.27 499.0,311.9 498.76,309.6 499.07,308.49 499.88,309.24 499.51,306.87 499.81,307.15 500.52,307.19 500.44,306.2 500.8,303.8 500.9,302.49 500.88,301.04 501.77,302.26 501.66,298.89 501.3,297.84 501.63,298.54 501.5,296.95 502.29,294.52 502.21,295.73 502.51,293.75 502.6,292.9 503.61,292.26 503.7,290.73 504.5,290.1 505.34,292.38 505.71,292.74 505.7,293.8 505.51,291.85 505.92,292.33 505.7,291.64 506.65,289.8 506.04,289.61 506.61,288.22 506.94,287.38 506.94,287.04 507.2,284.7 507.91,286.99 507.83,286.25 507.85,287.16 508.63,289.72 508.77,290.85 509.23,291.5 509.0,292.0 509.72,293.2 510.8,292.9 510.79,294.23 510.91,295.96 511.46,295.29 512.12,295.74 512.36,298.71 511.8,299.73 512.45,301.17 512.6,301.0 512.68,299.79 512.76,297.8 512.84,296.85 512.92,295.88 512.99,295.83 513.07,294.29 513.15,294.43 513.23,292.98 513.31,291.17 513.39,290.36 513.47,291.22 513.55,290.44 513.63,288.21 513.71,287.75 513.78,287.05 513.86,286.31 513.94,282.89 514.02,281.97 514.1,282.0 514.73,279.56 515.49,279.82 515.69,277.48 515.9,277.4 516.22,278.04 516.01,280.31 515.97,280.34 516.21,282.42 517.19,281.05 516.94,283.31 517.38,285.06 517.18,286.66 517.21,285.35 517.7,287.4 518.33,287.34 518.01,289.49 518.48,289.55 519.39,291.5 519.56,291.89 520.0,292.85 519.9,294.7 520.47,296.02 520.7,297.47 520.52,297.77 520.91,298.5 520.32,300.85 521.19,301.17 521.29,300.86 521.17,303.56 521.83,304.85 521.2,305.14 521.7,305.6 521.85,306.32 522.0,306.55 522.15,308.58 522.3,309.22 522.45,311.36 522.6,310.62 522.75,312.22 522.9,315.0 523.05,314.84 523.2,315.6 523.85,314.27 523.61,313.06 523.27,311.74 523.54,310.97 524.23,310.78 524.73,310.14 524.32,309.9 524.77,307.73 525.18,307.09 525.0,305.6 525.96,305.45 527.2,304.7 527.16,307.13 527.27,308.22 527.26,306.5 527.91,308.14 528.03,308.96 528.52,311.63 528.53,313.45 529.0,313.8 528.89,312.91 528.39,315.21 529.0,316.5 529.62,316.97 529.38,317.1 529.38,320.7 529.71,321.49 529.29,320.69 529.61,323.53 529.69,324.83 530.01,325.69 530.4,325.6 531.52,324.59 532.6,324.6 533.97,325.27 534.4,326.5 535.5,324.61 536.53,326.63 537.1,324.6 536.9,324.32 537.25,321.6 537.53,322.1 538.31,322.07 538.54,320.01 538.39,317.68 538.66,317.82 538.48,317.84 538.57,314.65 539.0,314.7 538.79,312.64 539.35,313.49 539.05,311.58 539.59,310.7 539.56,309.61 539.29,307.16 539.82,306.64 540.29,305.61 540.48,304.56 539.88,304.21 540.3,302.75 540.81,301.38 540.84,302.11 540.8,300.1 541.08,298.98 541.87,298.15 541.46,295.48 542.1,295.6 541.98,296.16 542.29,298.13 542.92,298.19 543.31,301.07 543.34,299.85 543.9,301.9 544.16,300.49 545.21,300.7 545.18,298.23 545.7,298.3 545.85,296.31 547.25,296.93 547.5,295.6 547.66,297.16 548.06,298.02 549.0,299.2 549.06,297.03 549.69,297.8 549.69,295.2 550.07,294.96 550.29,292.95 550.75,291.69 550.3,291.82 550.8,291.1 550.8,290.95 551.59,294.63 551.53,293.57 552.17,294.5 552.2,296.9 552.6,297.4 552.71,295.4 552.53,295.52 553.63,295.62 552.92,293.41 553.49,291.51 553.85,291.39 554.17,289.8 554.47,290.31 554.19,287.36 554.4,287.4 555.28,285.42 556.2,285.6 556.59,285.16 556.68,284.96 556.35,283.19 557.3,280.43 557.02,279.25 557.48,280.18 557.45,279.09 557.67,278.13 558.0,276.5 558.08,278.94 558.15,277.18 558.23,280.33 558.3,281.13 558.38,282.87 558.45,281.73 558.52,284.41 558.6,283.64 558.67,287.11 558.75,286.56 558.82,288.97 558.9,289.2 559.03,290.55 559.16,291.8 559.29,292.66 559.42,293.61 559.55,294.18 559.68,295.77 559.81,296.03 559.94,297.93 560.07,298.77 560.2,300.1 561.26,298.29 562.0,298.3 562.41,298.8 563.02,301.19 563.41,301.8 563.5,302.9 563.43,305.12 563.88,304.5 563.84,305.57 564.44,307.76 564.4,308.49 564.31,308.66 564.64,309.22 564.83,311.51 565.38,310.9 565.07,313.56 565.67,314.23 565.7,314.7 566.01,314.24 565.82,311.38 566.09,310.27 566.86,310.67 566.75,310.93 567.05,307.76 566.76,306.39 567.1,306.5 568.6,305.6 568.63,307.31 568.67,307.26 568.7,308.63 568.74,310.83 568.77,311.78 568.81,311.5 568.84,314.13 568.88,312.78 568.91,316.02 568.94,315.33 568.98,317.97 569.01,316.97 569.05,318.52 569.08,321.07 569.12,320.63 569.15,321.24 569.18,322.65 569.22,322.58 569.25,325.77 569.29,326.56 569.32,326.16 569.36,328.59 569.39,328.51 569.43,331.16 569.46,330.37 569.49,332.39 569.53,331.85 569.56,334.63 569.6,335.26 569.63,335.42 569.67,337.04 569.7,338.3 569.81,338.44 569.82,337.66 570.19,336.26 570.44,334.45 570.83,331.84 571.5,333.05 571.22,331.93 571.7,330.1 572.28,330.61 572.45,327.95 573.23,327.76 574.38,327.49 574.7,325.6 575.05,326.35 575.6,326.61 575.36,329.57 575.84,331.35 576.2,331.0 576.89,329.99 578.4,329.2 580.0,329.9 579.94,329.48 580.04,330.76 580.54,332.78 580.91,333.39 581.33,335.07 581.83,335.09 581.59,337.06 581.8,338.1 582.42,338.25 583.3,336.3 583.27,338.42 583.67,337.88 584.19,339.57 584.11,339.21 585.04,341.06 584.46,342.93 585.1,343.5 585.31,342.01 585.29,342.52 585.48,340.29 586.28,339.14 585.9,337.57 586.34,338.04 586.31,336.3 586.27,336.42 586.68,335.55 586.9,333.6 587.13,333.18 587.15,330.59 588.44,330.83 588.52,329.19 588.7,328.1 589.11,328.12 589.25,330.32 590.21,330.1 590.6,330.64 590.9,332.6 591.38,330.6 591.64,329.96 592.05,328.39 592.35,328.74 592.37,326.8 593.1,326.3 593.61,325.39 593.87,325.03 594.16,322.37 594.36,323.09 594.81,321.82 594.94,319.89 595.4,319.0 596.67,319.03 597.15,316.06 597.8,316.3 598.1,313.96 598.6,315.7 598.58,312.68 598.88,311.43 599.04,311.44 598.42,311.53 599.02,310.37 599.46,308.53 599.81,306.59 600.03,306.0 599.34,305.01 600.0,304.5 600.12,302.36 601.22,301.6 601.31,301.2 602.2,300.9 602.75,301.18 604.14,300.11 604.5,298.1 605.39,298.84 605.6,299.3 606.13,301.75 606.33,300.98 606.09,303.92 606.9,303.6 607.32,302.86 608.0,300.43 608.2,300.3 608.65,299.21 608.43,299.59 609.1,297.2 609.41,298.84 610.48,298.32 610.87,299.67 611.2,300.9 611.19,301.08 612.19,302.52 612.01,303.9 611.79,305.64 612.78,306.99 612.66,306.06 612.91,308.57 613.49,308.63 613.6,309.9 614.82,308.0 616.0,308.1 616.78,309.12 616.73,311.13 616.78,312.05 617.29,313.41 617.8,313.6 617.84,311.8 618.84,311.25 619.03,310.38 619.6,309.0 619.59,309.84 619.65,311.92 620.18,313.03 620.75,313.39 621.1,313.04 621.53,314.55 621.89,317.01 621.8,317.2 622.68,317.21 623.14,315.9 623.9,314.5 624.67,314.65 624.13,316.34 624.86,316.63 624.89,319.76 625.37,318.73 625.8,320.8 625.84,322.12 626.21,322.93 626.92,323.93 627.24,326.18 627.6,326.3 627.27,326.49 627.6,322.84 628.32,323.33 628.24,321.25 628.63,320.45 628.73,319.16 628.72,319.32 628.67,317.78 628.52,317.19 629.29,314.71 629.3,315.33 629.4,313.6 629.24,313.58 630.25,310.3 629.87,309.39 630.11,308.4 630.59,307.88 630.64,307.49 630.95,307.44 631.54,304.48 631.28,303.17 631.8,303.6 632.78,301.56 634.1,301.8 634.74,301.69 635.48,299.12 634.96,299.79 635.77,299.37 636.3,297.2 636.43,295.61 636.34,296.4 637.01,293.88 637.17,293.78 637.8,291.88 637.7,290.9 638.48,290.63 639.9,290.9 639.94,291.65 639.98,293.11 640.01,294.18 640.05,295.15 640.09,294.79 640.12,298.13 640.16,296.63 640.2,299.45 640.24,300.0 640.27,300.53 640.31,302.79 640.35,303.56 640.39,304.63 640.42,305.02 640.46,306.49 640.5,306.16 640.54,307.64 640.57,308.71 640.61,311.19 640.65,311.99 640.69,313.6 640.72,314.01 640.76,313.45 640.8,315.4 641.49,316.3 642.31,316.1 643.2,318.1 643.64,318.44 644.5,319.59 644.39,320.06 645.34,321.25 645.43,323.65 645.7,323.6 646.07,323.42 646.44,320.63 646.68,320.69 647.99,319.06 648.1,319.0 649.24,319.31 650.5,318.1 650.88,316.19 651.72,316.08 652.3,315.4 653.19,317.45 652.94,317.38 653.57,316.75 654.1,319.0 654.48,319.31 654.78,317.45 655.63,315.03 656.28,314.27 656.3,314.5 657.15,316.03 658.4,316.3 658.17,317.01 658.53,318.36 658.67,318.49 659.12,319.35 659.24,320.75 659.9,322.7 659.97,322.69 660.04,324.55 660.11,325.09 660.18,325.57 660.25,326.76 660.32,328.71 660.38,331.08 660.45,329.8 660.52,332.37 660.59,332.52 660.66,333.3 660.73,334.62 660.8,336.3 661.07,334.72 660.93,334.71 660.93,334.17 661.52,331.51 661.31,331.33 661.88,330.94 661.93,329.05 662.63,327.64 662.9,328.44 662.6,326.3 663.54,326.69 663.26,325.41 664.06,322.74 664.4,322.7 666.1,323.13 666.8,322.7 667.47,323.95 667.1,325.91 667.56,325.24 668.36,326.13 668.6,328.1 668.93,329.79 668.93,330.7 669.3,331.23 670.22,332.91 669.98,332.54 670.8,334.5 671.81,335.08 671.82,335.94 672.65,337.9 673.0,338.1 673.53,336.75 673.84,336.01 673.84,336.2 675.0,334.64 675.41,332.67 675.3,331.7 675.99,329.94 676.24,330.3 676.79,329.63 677.08,326.98 677.34,326.57 677.21,325.24 678.05,325.61 678.1,323.6 679.79,324.54 680.8,324.5 680.73,322.46 681.38,321.58 681.41,320.22 681.48,320.96 681.81,320.29 682.17,319.25 682.6,317.2 682.62,315.53 682.93,313.8 683.19,313.88 682.99,314.28 683.57,310.8 684.37,310.47 683.88,308.88 683.94,309.88 684.65,308.29 684.53,306.67 685.0,306.3 686.47,305.33 687.49,306.22 688.0,304.5 688.56,306.41 689.39,306.91 690.8,307.2 691.53,308.87 691.69,310.31 691.71,310.62 692.25,311.31 692.9,312.7 693.39,314.2 694.57,315.31 695.3,315.4 696.23,315.09 697.32,315.11 697.7,313.6 698.6,313.7 699.79,314.43 700.2,315.4 700.28,315.82 701.37,318.45 701.79,318.57 702.56,319.81 702.6,319.9 702.93,320.86 703.63,321.5 703.36,323.45 704.44,323.44 704.7,326.37 704.9,326.3 704.83,324.18 705.49,323.69 706.25,324.54 706.05,322.88 706.53,320.02 706.7,319.9 707.49,320.02 706.91,321.9 707.17,323.04 707.88,325.48 708.2,326.25 708.6,326.3 709.08,327.55 708.74,327.73 709.19,329.0 709.55,330.32 709.6,331.3 709.68,332.65 710.61,332.52 710.21,333.01 710.22,334.18 710.81,337.49 711.34,338.91 711.4,338.6 711.46,339.88 711.53,339.26 711.59,341.02 711.66,341.48 711.72,343.42 711.79,344.54 711.85,346.52 711.91,347.17 711.98,348.21 712.04,350.37 712.11,348.68 712.17,351.51 712.24,353.28 712.3,353.1 713.38,355.15 713.8,354.9 713.72,354.08 714.02,352.22 714.58,352.11 714.32,350.85 715.09,349.88 715.24,348.83 715.0,347.6 715.79,345.22 715.56,345.73 716.13,345.92 716.32,343.49 716.63,342.63 717.0,342.82 716.61,339.99 717.4,339.5 718.33,337.3 718.79,336.29 719.2,337.6 719.6,335.8 719.79,336.61 720.23,338.69 720.98,339.56 721.4,340.4 721.96,341.55 723.32,343.01 723.6,343.1 724.28,341.37 724.08,340.77 724.14,340.98 724.19,339.27 725.02,339.36 724.5,336.44 725.2,337.37 725.1,336.09 725.57,334.24 725.9,333.1 727.28,332.74 727.8,334.9 728.09,334.82 728.35,336.17 729.38,337.89 729.26,339.45 730.1,339.5 730.38,337.44 730.97,338.38 730.64,337.7 731.51,334.61 730.98,335.44 732.08,332.18 732.29,333.12 732.3,331.3 732.75,331.22 733.41,328.71 733.58,329.39 733.37,327.66 734.06,327.1 734.25,324.39 734.5,324.0 735.4,323.22 736.8,322.2 737.04,322.34 738.39,319.65 738.8,320.0 739.2,318.6 739.66,320.01 741.13,319.24 741.7,320.4 741.78,318.87 742.93,318.5 743.46,316.71 743.23,316.36 744.1,315.9 745.38,315.82 745.9,317.7 745.92,317.28 746.39,315.89 746.83,313.52 747.7,313.1 748.16,315.25 748.21,315.09 748.13,315.84 748.64,318.2 749.41,319.26 749.5,319.5 749.88,321.1 749.83,321.22 750.34,321.94 751.14,322.77 751.08,323.99 751.96,326.05 751.93,326.33 752.3,327.7 753.02,327.93 752.85,325.81 753.56,323.86 753.26,322.38 753.8,323.26 753.76,321.25 754.4,320.4 756.09,319.45 756.8,318.6 757.16,318.66 758.15,316.4 757.86,316.24 758.96,316.15 759.2,314.0 759.89,312.54 760.26,311.58 760.72,311.21 761.3,310.4 762.15,310.5 762.61,308.18 763.08,306.11 763.48,306.49 763.5,305.0 764.22,305.78 764.68,305.68 764.88,309.01 764.75,310.07 764.93,310.88 765.53,310.91 765.9,312.2 766.5,312.62 767.7,311.3 768.29,309.03 768.9,308.33 768.66,307.81 769.22,308.11 769.5,305.9 770.11,305.3 769.69,302.78 769.56,302.98 770.24,301.78 770.8,300.69 770.33,299.72 770.32,300.24 770.9,298.1 770.9,296.26 770.95,295.97 771.3,295.0 771.45,295.38 771.76,292.13 771.45,290.98 771.95,291.77 772.69,289.18 772.78,288.76 772.74,288.02 772.44,285.65 773.1,285.9 774.1,286.3"/>
<rect x="772.3" y="283.8" width="3.8" height="6" fill="#c00000"/>
<!-- mean -->
<line x1="63.6" y1="271.6" x2="775.7" y2="271.6" stroke="#000000" stroke-width="1.9"/>
<text x="732.1" y="266.1" class="med" textLength="76.6" lengthAdjust="spacingAndGlyphs">Média: 11,4x</text>
<text x="776.2" y="302.8" class="last" textLength="32.5" lengthAdjust="spacingAndGlyphs">10,8x</text>
<!-- caption -->
<text x="170.1" y="446.8" class="cap" textLength="472.8" lengthAdjust="spacingAndGlyphs">Fontes: Bloomberg, Empiricus Research. Dados até 28-nov-25.</text>
</svg>
</body>
</html>
